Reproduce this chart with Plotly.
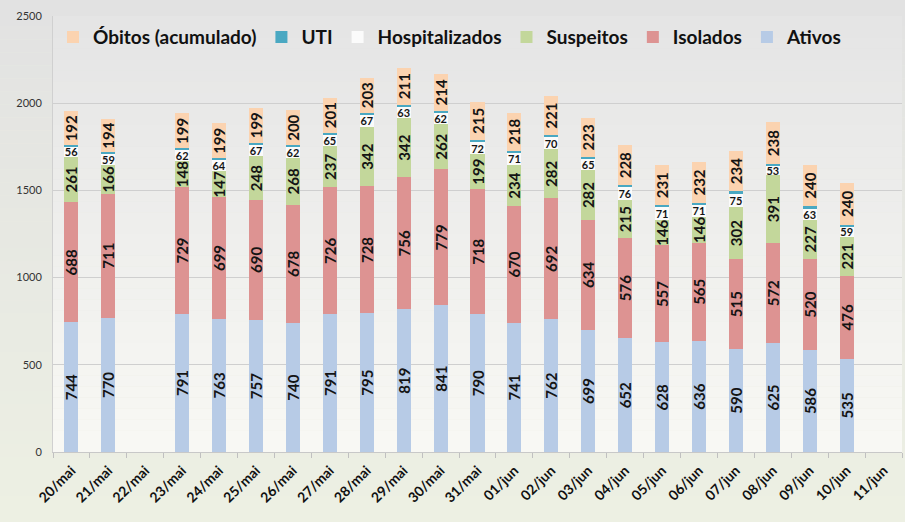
import plotly.graph_objects as go

dates = ["20/mai", "21/mai", "22/mai", "23/mai", "24/mai", "25/mai", "26/mai", "27/mai",
         "28/mai", "29/mai", "30/mai", "31/mai", "01/jun", "02/jun", "03/jun", "04/jun",
         "05/jun", "06/jun", "07/jun", "08/jun", "09/jun", "10/jun", "11/jun"]
ativos = [744, 770, None, 791, 763, 757, 740, 791, 795, 819, 841, 790, 741, 762, 699, 652,
          628, 636, 590, 625, 586, 535, None]
isolados = [688, 711, None, 729, 699, 690, 678, 726, 728, 756, 779, 718, 670, 692, 634, 576,
            557, 565, 515, 572, 520, 476, None]
suspeitos = [261, 166, None, 148, 147, 248, 268, 237, 342, 342, 262, 199, 234, 282, 282, 215,
             146, 146, 302, 391, 227, 221, None]
hospitalizados = [56, 59, None, 62, 64, 67, 62, 65, 67, 63, 62, 72, 71, 70, 65, 76,
                  71, 71, 75, 53, 63, 59, None]
uti = [12, 12, None, 12, 12, 12, 12, 12, 12, 12, 12, 12, 12, 12, 12, 12,
       12, 12, 12, 12, 12, 12, None]
obitos = [192, 194, None, 199, 199, 199, 200, 201, 203, 211, 214, 215, 218, 221, 223, 228,
          231, 232, 234, 238, 240, 240, None]

FONT = "Lato"
fig = go.Figure()

def add(name, vals, color, show_text=True, angle=-90, size=15):
    fig.add_trace(go.Bar(
        x=dates, y=vals, name=name, marker=dict(color=color, line=dict(width=0)),
        text=[("" if v is None else str(v)) for v in vals] if show_text else None,
        textposition="inside" if show_text else "none",
        insidetextanchor="middle", textangle=angle, constraintext="none",
        textfont=dict(family=FONT, size=size, color="#141414", weight="bold"),
    ))

add("Ativos", ativos, "#b7cbe6")
add("Isolados", isolados, "#dd9392")
add("Suspeitos", suspeitos, "#c3d79b")
add("Hospitalizados", hospitalizados, "#fbfbfb", angle=0, size=11)
add("UTI", uti, "#4aa8c2", show_text=False)
add("Óbitos (acumulado)", obitos, "#fbd3b0")

# background gradients (styling only)
shapes = []
N = 40
pw, ph = 905 - 53 - 3, 522 - 16 - 70
x0f, x1f = -53 / pw, 1 + 3 / pw
y0f, y1f = -70 / ph, 1 + 16 / ph
top, bot = (226, 226, 226), (237, 240, 227)
for i in range(N):
    t = i / (N - 1)
    c = tuple(round(top[k] + (bot[k] - top[k]) * t) for k in range(3))
    ya = y1f - (y1f - y0f) * i / N
    yb = y1f - (y1f - y0f) * (i + 1) / N
    shapes.append(dict(type="rect", xref="paper", yref="paper", x0=x0f, x1=x1f, y0=yb, y1=ya,
                       fillcolor="rgb(%d,%d,%d)" % c, line=dict(width=0), layer="below"))
top, bot = (229, 229, 229), (248, 248, 244)
for i in range(N):
    t = i / (N - 1)
    c = tuple(round(top[k] + (bot[k] - top[k]) * t) for k in range(3))
    ya = 1 - i / N
    yb = 1 - (i + 1) / N
    shapes.append(dict(type="rect", xref="paper", yref="paper", x0=0, x1=1, y0=yb, y1=ya,
                       fillcolor="rgb(%d,%d,%d)" % c, line=dict(width=0), layer="below"))

fig.update_layout(
    width=905, height=522,
    margin=dict(l=53, r=3, t=16, b=70),
    barmode="stack", bargap=0.62,
    paper_bgcolor="#eaede2", plot_bgcolor="rgba(0,0,0,0)",
    font=dict(family=FONT, color="#222"),
    shapes=shapes,
    showlegend=True,
    legend=dict(orientation="h", x=0.0, y=0.995, xanchor="left", yanchor="top",
                traceorder="reversed", bgcolor="rgba(0,0,0,0)",
                font=dict(family=FONT, size=19, color="#111", weight="bold"),
                itemwidth=30),
    xaxis=dict(type="category", tickangle=-45, ticks="outside", tickson="boundaries",
               ticklen=5, tickcolor="#c0c0c0", showline=True, linecolor="#c8c8c8",
               tickfont=dict(family=FONT, size=14, color="#111", weight="bold"),
               showgrid=False, ticklabelstandoff=4),
    yaxis=dict(range=[0, 2500], dtick=500, showgrid=True, gridcolor="#cfcfcf",
               gridwidth=1, zeroline=False, showline=True, linecolor="#d0d0d0",
               tickfont=dict(family=FONT, size=11, color="#333"), ticklabelstandoff=8),
)

fig.write_html("out.html")
